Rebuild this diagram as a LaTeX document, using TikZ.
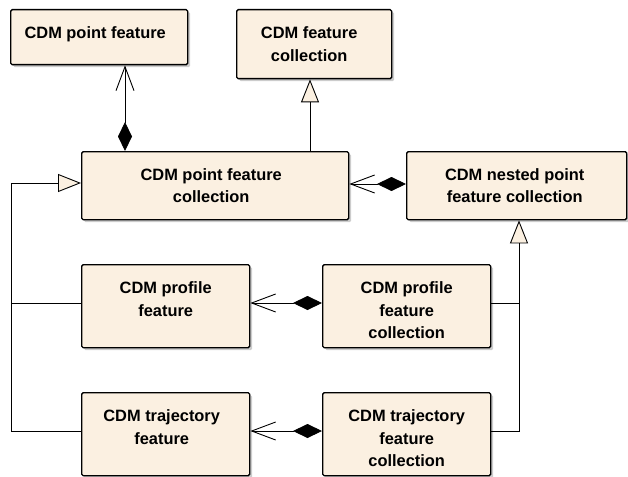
\documentclass[tikz,border=0pt]{standalone}
\usepackage{fontspec}
\setmainfont{Liberation Sans}
\usetikzlibrary{arrows.meta,shadows,calc}
\definecolor{cream}{HTML}{FBF0E1}
\begin{document}
\begin{tikzpicture}[x=1pt,y=-1pt,
  umlbox/.style={draw=black, line width=1.4pt, fill=cream, rounded corners=1.5pt,
    drop shadow={shadow xshift=2.5pt, shadow yshift=-2.5pt, fill=black!20, opacity=1},
    anchor=north west, inner sep=0pt},
  lbl/.style={anchor=north, inner sep=0pt, align=center,
    font=\bfseries\fontsize{16.4}{22.5}\selectfont},
  conn/.style={draw=black, line width=0.9pt},
  comp/.style={conn, {Diamond[length=29pt,width=14pt]}-{Straight Barb[length=24pt,width=18pt]}},
  gen/.style={conn, -{Triangle[open,fill=cream,length=23pt,width=18pt]}}
]
\useasboundingbox (0,0) rectangle (628,476);

% boxes
\node[umlbox, minimum width=177pt, minimum height=55pt] (pf) at (10,9) {};
\node[umlbox, minimum width=155pt, minimum height=69pt] (fc) at (236,9) {};
\node[umlbox, minimum width=267pt, minimum height=68pt] (pfc) at (81,151) {};
\node[umlbox, minimum width=220pt, minimum height=68pt] (npfc) at (406,151) {};
\node[umlbox, minimum width=168pt, minimum height=83pt] (prof) at (81,264) {};
\node[umlbox, minimum width=168pt, minimum height=83pt] (profc) at (322,264) {};
\node[umlbox, minimum width=168pt, minimum height=83pt] (traj) at (81,392) {};
\node[umlbox, minimum width=168pt, minimum height=83pt] (trajc) at (322,392) {};

% labels
\node[lbl] (tpf) at ($(pf.north)+(-4,17.5)$) {CDM point feature};
\node[lbl] (tfc) at ($(fc.north)+(-5,17.5)$) {CDM feature\\collection};
\node[lbl] (tpfc) at ($(pfc.north)+(-4,17)$) {CDM point feature\\collection};
\node[lbl] (tnpfc) at ($(npfc.north)+(-2,17)$) {CDM nested point\\feature collection};
\node[lbl] (tprof) at ($(prof.north)+(0,17.5)$) {CDM profile\\feature};
\node[lbl] (tprofc) at ($(profc.north)+(0,17.5)$) {CDM profile\\feature\\collection};
\node[lbl] (ttraj) at ($(traj.north)+(-4,17.5)$) {CDM trajectory\\feature};
\node[lbl] (ttrajc) at ($(trajc.north)+(0,17.5)$) {CDM trajectory\\feature\\collection};

% helper coordinates
\coordinate (xa) at (125,0);
\coordinate (xb) at (310,0);
\coordinate (xl) at (11,0);
\coordinate (xr) at (519,0);
\coordinate (ya) at (0,184);
\coordinate (yg) at (0,183);
\coordinate (yp) at (0,303);
\coordinate (yt) at (0,431);

% compositions
\draw[comp] (xa |- pfc.north) -- (xa |- pf.south);
\draw[comp] (npfc.west |- ya) -- (pfc.east |- ya);
\draw[comp] (profc.west |- yp) -- (prof.east |- yp);
\draw[comp] (trajc.west |- yt) -- (traj.east |- yt);

% generalizations
\draw[gen] (xb |- pfc.north) -- (xb |- fc.south);
\draw[gen] (prof.west |- yp) -- (xl |- yp) -- (xl |- yg) -- (pfc.west |- yg);
\draw[conn] (traj.west |- yt) -- (xl |- yt) -- (xl |- yp);
\draw[gen] (profc.east |- yp) -- (xr |- yp) -- (xr |- npfc.south);
\draw[conn] (trajc.east |- yt) -- (xr |- yt) -- (xr |- yp);
\end{tikzpicture}
\end{document}
